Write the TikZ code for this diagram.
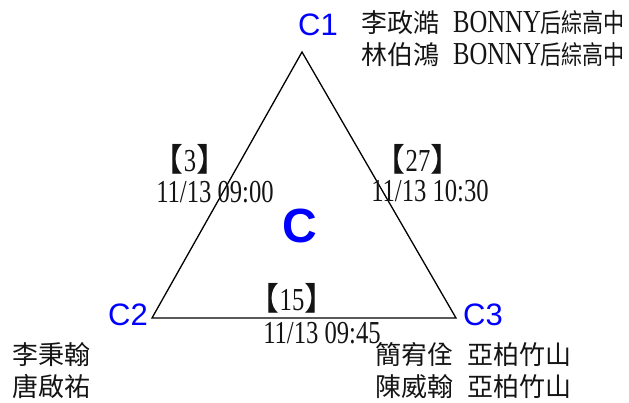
\documentclass[tikz,border=0pt]{standalone}
\usepackage{fontspec}
\setmainfont{Liberation Serif}[FakeStretch=0.77]
\setsansfont{Liberation Sans}
\newfontfamily\cjk{Noto Sans CJK TC}
\newfontfamily\cjknarrow{Noto Sans CJK TC}[FakeStretch=0.81]
\definecolor{vtxblue}{RGB}{0,0,255}
\definecolor{ink}{RGB}{20,20,20}
\usetikzlibrary{positioning}
\newcommand{\gap}{\hspace{14pt}}
\newcommand{\club}{{\rmfamily\fontsize{32}{32}\selectfont BONNY}{\cjknarrow 后綜高中}}

\begin{document}
\begin{tikzpicture}[x=1pt, y=-1pt,
    vtx/.style={text=vtxblue, font=\sffamily\fontsize{31}{31}\selectfont, inner sep=0pt},
    team/.style={text=ink, font=\cjk\fontsize{26}{32}\selectfont, align=left, anchor=west, inner sep=0pt},
    tally/.style={text=ink, font=\rmfamily\fontsize{32}{32}\selectfont, inner sep=0pt, text height=21pt, text depth=1pt},
    stamp/.style={text=ink, font=\rmfamily\fontsize{32}{32}\selectfont, inner sep=0pt, text height=21pt, text depth=1pt}]
        \useasboundingbox (0,0) rectangle (629,403);
        % vertices of the group
        \coordinate (c1) at (302,52);
        \coordinate (c2) at (152,318);
        \coordinate (c3) at (456,318);
        \draw[black, line width=1.3pt, line join=miter] (c1) -- (c2) -- (c3) -- cycle;
        \node[vtx] (lc1) at (318,25) {C1};
        \node[vtx] (lc2) at (128,315) {C2};
        \node[vtx] (lc3) at (483,315) {C3};
        \node[vtx, font=\sffamily\bfseries\fontsize{48}{48}\selectfont] (grp) at (300,226) {C};
        % players
        \node[team] (p1) at (361,39) {李政澔\gap\club\\林伯鴻\gap\club};
        \node[team] (p2) at (12,371) {李秉翰\\唐啟祐};
        \node[team] (p3) at (375,371) {簡宥佺\gap 亞柏竹山\\陳威翰\gap 亞柏竹山};
        % match numbers and times
        \node[tally] (m12) at (190,162) {{\cjk 【}3{\cjk 】}};
        \node[stamp] (t12) at (215,193) {11/13 09:00};
        \node[tally] (m13) at (418,162) {{\cjk 【}27{\cjk 】}};
        \node[stamp] (t13) at (430,192) {11/13 10:30};
        \node[tally] (m23) at (292,300) {{\cjk 【}15{\cjk 】}};
        \node[stamp] (t23) at (322,333) {11/13 09:45};
      \end{tikzpicture}
\end{document}
